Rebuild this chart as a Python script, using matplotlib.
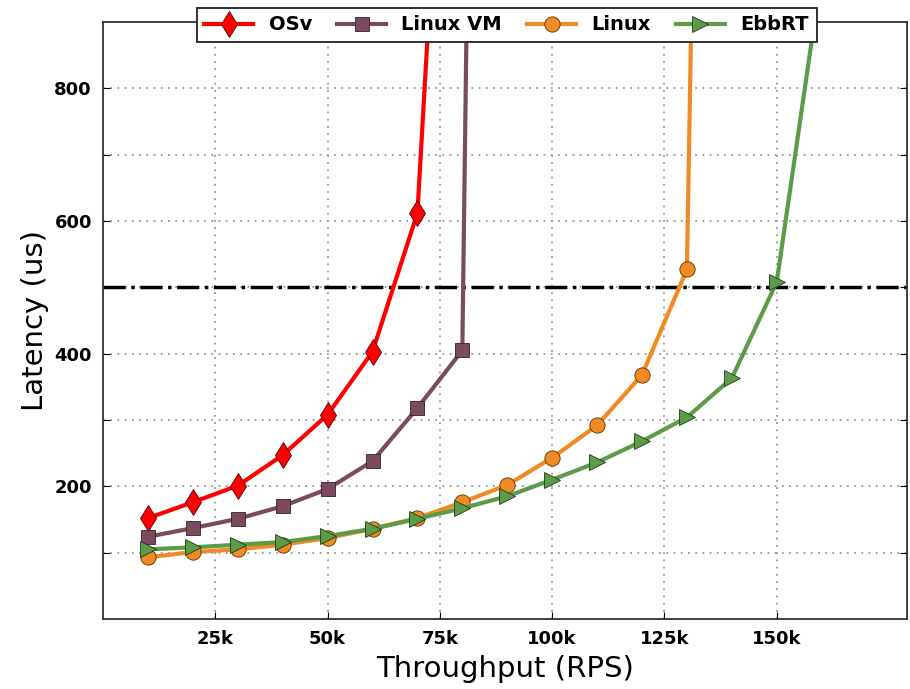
import matplotlib
matplotlib.use("Agg")
import matplotlib.pyplot as plt
import numpy as np

# throughput (RPS) and latency (us)
osv_x = [10000, 20000, 30000, 40000, 50000, 60000, 70000, 75000]
osv_y = [152, 176, 201, 247, 308, 403, 612, 1200]

vm_x = [10000, 20000, 30000, 40000, 50000, 60000, 70000, 80000, 82000]
vm_y = [124, 137, 151, 170, 196, 238, 318, 405, 1450]

linux_x = [10000, 20000, 30000, 40000, 50000, 60000, 70000, 80000,
           90000, 100000, 110000, 120000, 130000, 132000]
linux_y = [93, 101, 105, 112, 122, 136, 152, 176, 202, 243, 292, 368, 527, 1300]

ebbrt_x = [10000, 20000, 30000, 40000, 50000, 60000, 70000, 80000,
           90000, 100000, 110000, 120000, 130000, 140000, 150000, 160000]
ebbrt_y = [105, 108, 112, 116, 125, 136, 151, 167, 185, 210, 236, 268,
           304, 363, 508, 975]

slo = 500
x_ticks = [25000, 50000, 75000, 100000, 125000, 150000]
x_tick_labels = ['25k', '50k', '75k', '100k', '125k', '150k']
y_ticks = [100, 200, 300, 400, 500, 600, 700, 800]


def plot_latency(savefile):
    fig = plt.figure(figsize=(9.1, 6.89), dpi=100)
    ax = fig.add_axes([0.1132, 0.1016, 0.8835, 0.8665])

    lw = 3
    ax.plot(osv_x, osv_y, color='#ff0000', lw=lw, marker='d', ms=13,
            mec='#550000', mew=0.6, label='OSv')
    ax.plot(vm_x, vm_y, color='#7a4b5e', lw=lw, marker='s', ms=10,
            mec='#331f28', mew=0.6, label='Linux VM')
    ax.plot(linux_x, linux_y, color='#f08a24', lw=lw, marker='o', ms=11,
            mec='#5a3000', mew=0.6, label='Linux')
    ax.plot(ebbrt_x, ebbrt_y, color='#5c9b48', lw=lw, marker='>', ms=12,
            mec='#1e3a15', mew=0.6, label='EbbRT')

    ax.axhline(slo, color='k', ls='-.', lw=2.5, zorder=1)

    ax.set_xlim(0, 179000)
    ax.set_ylim(0, 900)
    ax.set_xticks(x_ticks)
    ax.set_xticklabels(x_tick_labels)
    ax.set_yticks(y_ticks)
    ax.set_yticklabels([str(v) if v % 200 == 0 else '' for v in y_ticks])
    ax.tick_params(direction='in', top=True, right=True, length=5,
                   labelsize=13, pad=8)
    for lab in ax.get_xticklabels() + ax.get_yticklabels():
        lab.set_fontweight('bold')

    ax.grid(True, color='#999999', ls=(0, (1, 3)), lw=1.3)
    ax.set_axisbelow(True)
    for sp in ax.spines.values():
        sp.set_color('#333333')
        sp.set_linewidth(1.3)

    ax.set_xlabel('Throughput (RPS)', fontsize=21, labelpad=5)
    ax.set_ylabel('Latency (us)', fontsize=21, labelpad=4)

    leg = ax.legend(loc='center', bbox_to_anchor=(0.502, 0.995), ncol=4,
                    fancybox=False, framealpha=1, edgecolor='#222222',
                    prop={'weight': 'bold', 'size': 14}, handlelength=2.5,
                    columnspacing=1.3, borderpad=0.4)
    leg.get_frame().set_linewidth(1.3)

    plt.savefig(savefile, dpi=100)


if __name__ == "__main__":
    plot_latency("out.png")
